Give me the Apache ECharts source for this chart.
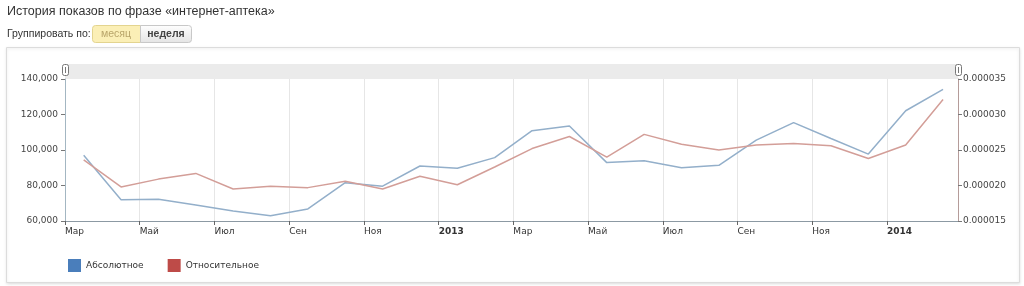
<!DOCTYPE html>
<html>
<head>
<meta charset="utf-8">
<title>История показов</title>
<script src="https://cdn.jsdelivr.net/npm/echarts@6/dist/echarts.min.js"></script>
<style>
    html, body { margin: 0; padding: 0; background: #fff; }
    #chart { width: 1024px; height: 286px; }
</style>
</head>
<body>
<div id="chart"></div>
<script>
    // месяцы: март 2012 .. февраль 2014, точка в середине месяца
    const months = ['2012-03', '2012-04', '2012-05', '2012-06', '2012-07', '2012-08', '2012-09', '2012-10',
        '2012-11', '2012-12', '2013-01', '2013-02', '2013-03', '2013-04', '2013-05', '2013-06',
        '2013-07', '2013-08', '2013-09', '2013-10', '2013-11', '2013-12', '2014-01', '2014-02'];
    // абсолютное число показов
    const absValues = [97000, 72000, 72300, 69000, 65600, 63000, 66800, 81600,
        79600, 91000, 89700, 95700, 110900, 113500, 92900, 94000,
        90000, 91400, 105600, 115400, 106500, 97700, 122100, 134200];
    // относительное (доля)
    const relValues = [0.0000236, 0.0000198, 0.0000209, 0.0000217, 0.0000195, 0.0000199, 0.0000197, 0.0000206,
        0.0000195, 0.0000213, 0.0000201, 0.0000226, 0.0000252, 0.0000269, 0.0000240, 0.0000272,
        0.0000258, 0.0000250, 0.0000257, 0.0000259, 0.0000256, 0.0000238, 0.0000257, 0.0000321];
    // подписи оси X через каждые два месяца
    const tickLabels = ['Мар', 'Май', 'Июл', 'Сен', 'Ноя', '2013', 'Мар', 'Май', 'Июл', 'Сен', 'Ноя', '2014'];
    const seriesNames = ['Абсолютное', 'Относительное'];

    const font = '"DejaVu Sans", Verdana, sans-serif';
    const headFont = '"Liberation Sans", Arial, sans-serif';

    const chart = echarts.init(document.getElementById('chart'), null, { renderer: 'canvas' });

    const opt = {
        animation: false,
        backgroundColor: '#fff',
        textStyle: { fontFamily: font },
        graphic: [
            // рамка панели
            {
                type: 'rect', z: -10, silent: true,
                shape: { x: 6.5, y: 47.5, width: 1013, height: 235 },
                style: { fill: '#fff', stroke: '#dcdcdc', lineWidth: 1, shadowBlur: 3, shadowColor: 'rgba(0,0,0,0.12)', shadowOffsetY: 1 }
            },
            {
                type: 'text', x: 7, y: 5,
                style: { text: 'История показов по фразе «интернет-аптека»', font: '12.5px ' + headFont, fill: '#333' }
            },
            {
                type: 'text', x: 7, y: 29,
                style: { text: 'Группировать по:', font: '10.5px ' + headFont, fill: '#333' }
            },
            // кнопки
            {
                type: 'rect', shape: { x: 92.5, y: 25.5, width: 48, height: 17, r: [3, 0, 0, 3] },
                style: { fill: '#fbefb6', stroke: '#e3d48f' }
            },
            {
                type: 'text', x: 116, y: 29,
                style: { text: 'месяц', font: '10.5px ' + headFont, fill: '#b9a56a', align: 'center' }
            },
            {
                type: 'rect', shape: { x: 140.5, y: 25.5, width: 51, height: 17, r: [0, 3, 3, 0] },
                style: {
                    stroke: '#c8c8c8',
                    fill: new echarts.graphic.LinearGradient(0, 0, 0, 1, [
                        { offset: 0, color: '#ffffff' }, { offset: 1, color: '#e4e4e4' }
                    ])
                }
            },
            {
                type: 'text', x: 166, y: 29,
                style: { text: 'неделя', font: 'bold 10.5px ' + headFont, fill: '#444', align: 'center' }
            },
            // полоса прокрутки над графиком
            {
                type: 'rect', z: -1, silent: true,
                shape: { x: 65, y: 64, width: 893, height: 15 },
                style: { fill: '#ebebeb' }
            },
            {
                type: 'rect', shape: { x: 62.5, y: 64.5, width: 6, height: 11, r: 2 },
                style: { fill: '#fff', stroke: '#777' }
            },
            {
                type: 'rect', shape: { x: 65, y: 67, width: 1, height: 6 },
                style: { fill: '#777' }
            },
            {
                type: 'rect', shape: { x: 955.5, y: 64.5, width: 6, height: 11, r: 2 },
                style: { fill: '#fff', stroke: '#777' }
            },
            {
                type: 'rect', shape: { x: 958, y: 67, width: 1, height: 6 },
                style: { fill: '#777' }
            }
        ],
        legend: {
            left: 63,
            top: 254,
            icon: 'rect',
            itemWidth: 13,
            itemHeight: 13,
            itemGap: 24,
            textStyle: { fontSize: 9, color: '#333', fontFamily: font },
            data: [
                { name: seriesNames[0], itemStyle: { color: '#4a7ebb' } },
                { name: seriesNames[1], itemStyle: { color: '#be4b48' } }
            ]
        },
        grid: {
            left: 65,
            right: 66,
            top: 79,
            bottom: 65
        },
        xAxis: {
            type: 'value',
            min: 0,
            max: 23.9,
            interval: 2,
            axisLine: { lineStyle: { color: '#8c99a3' } },
            axisTick: { length: 4, lineStyle: { color: '#666' } },
            splitLine: { show: true, lineStyle: { color: '#e6e6e6' } },
            axisLabel: {
                margin: 6,
                align: 'left',
                fontSize: 9,
                color: '#333',
                showMaxLabel: false,
                formatter: function (v) {
                    const label = tickLabels[Math.round(v / 2)] || '';
                    return /^\d{4}$/.test(label) ? '{b|' + label + '}' : label;
                },
                rich: { b: { fontWeight: 'bold', fontSize: 9, color: '#333', fontFamily: font } }
            }
        },
        yAxis: [
            {
                type: 'value',
                min: 60000,
                max: 140000,
                interval: 20000,
                axisLine: { show: true, lineStyle: { color: '#a3b6c2' } },
                axisTick: { show: true, length: 4, lineStyle: { color: '#777' } },
                splitLine: { show: false },
                axisLabel: {
                    fontSize: 9,
                    color: '#444',
                    margin: 7,
                    formatter: function (v) { return v.toLocaleString('en-US'); }
                }
            },
            {
                type: 'value',
                min: 0.000015,
                max: 0.000035,
                interval: 0.000005,
                axisLine: { show: true, lineStyle: { color: '#b59c9a' } },
                axisTick: { show: true, length: 4, lineStyle: { color: '#777' } },
                splitLine: { show: false },
                axisLabel: {
                    fontSize: 9,
                    color: '#444',
                    margin: 5,
                    formatter: function (v) { return v.toFixed(6); }
                }
            }
        ],
        series: [
            {
                name: seriesNames[0],
                type: 'line',
                yAxisIndex: 0,
                showSymbol: false,
                lineStyle: { color: '#93afca', width: 1.5 },
                itemStyle: { color: '#4a7ebb' },
                data: absValues.map(function (v, i) { return [i + 0.5, v]; })
            },
            {
                name: seriesNames[1],
                type: 'line',
                yAxisIndex: 1,
                showSymbol: false,
                lineStyle: { color: '#d39e98', width: 1.5 },
                itemStyle: { color: '#be4b48' },
                data: relValues.map(function (v, i) { return [i + 0.5, v]; })
            }
        ]
    };

    chart.setOption(opt);
    window.addEventListener('resize', chart.resize);
</script>
</body>
</html>
